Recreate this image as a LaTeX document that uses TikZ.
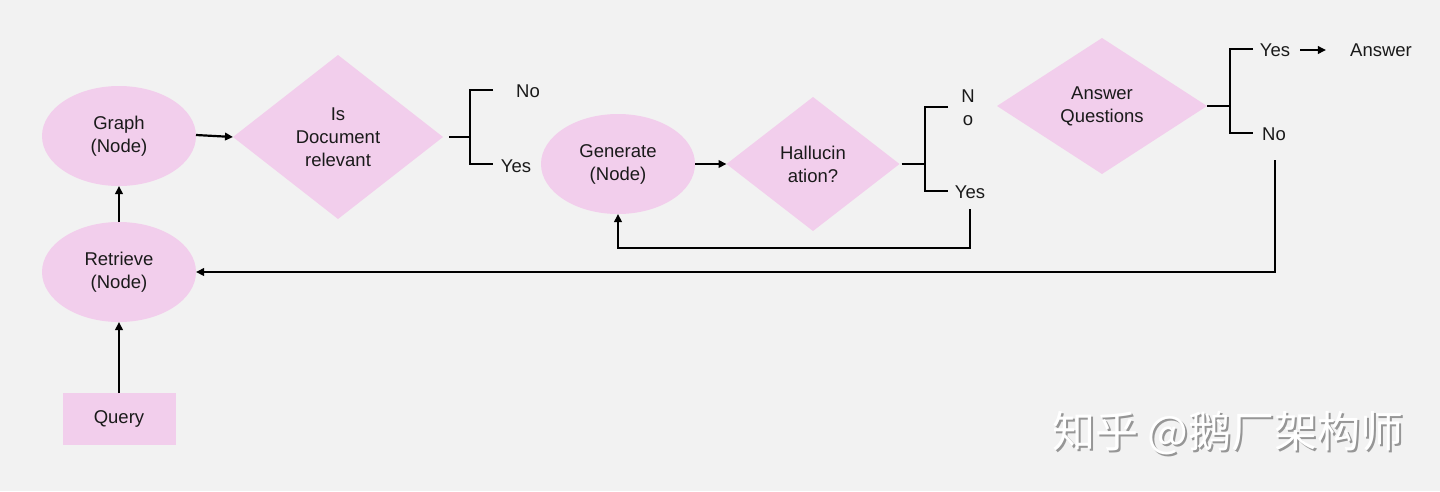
\documentclass[tikz,border=0pt]{standalone}
\usepackage{fontspec}
\setmainfont{Liberation Sans}
\newfontfamily\cjk{Noto Sans CJK SC}
\usetikzlibrary{shapes.geometric,arrows.meta}
\definecolor{bgc}{RGB}{242,242,242}
\definecolor{pinkc}{RGB}{242,206,236}
\definecolor{txtc}{RGB}{26,26,26}
\definecolor{wmshade}{RGB}{150,150,150}
\tikzset{
  every node/.style={font=\fontsize{18.5}{23}\selectfont, text=txtc, align=center},
  ell/.style={ellipse, fill=pinkc, minimum width=154pt, minimum height=100pt, inner sep=0pt, outer sep=0pt},
  dia/.style={diamond, fill=pinkc, inner sep=0pt, outer sep=0pt},
  qbox/.style={rectangle, fill=pinkc, minimum width=113pt, minimum height=52pt, inner sep=0pt, outer sep=0pt},
  lbl/.style={inner sep=0pt},
  conn/.style={draw=black, line width=2.2pt},
  arr/.style={conn, -{Triangle[length=8pt,width=7.5pt]}},
}
\begin{document}
\begin{tikzpicture}[x=1pt,y=-1pt]
\fill[bgc] (0,0) rectangle (1440,491);
\useasboundingbox (0,0) rectangle (1440,491);

% left column
\node[ell] (graph) at (119,136) {Graph\\(Node)};
\node[ell] (retr) at (119,272) {Retrieve\\(Node)};
\node[qbox] (query) at (119,419) {Query};
\draw[arr] (query.north) -- (retr.south);
\draw[arr] (retr.north) -- (graph.south);

% first decision
\node[dia, minimum width=210pt, minimum height=164pt] (d1) at (338,137) {Is\\Document\\relevant};
\draw[arr] ([yshift=1pt]graph.east) -- (d1.west);
\coordinate (b1) at (470,137);
\coordinate (b1t) at (493,90);
\coordinate (b1b) at (493,164);
\node[lbl] (no1) at (528,91) {No};
\node[lbl] (yes1) at (516,166) {Yes};
\draw[conn] ([xshift=6pt]d1.east) -- (b1);
\draw[conn] (b1t) -| (b1) |- (b1b);

% generate
\node[ell] (gen) at (618,164) {Generate\\(Node)};
\node[dia, minimum width=173pt, minimum height=134pt] (d2) at (813,164) {Hallucin\\ation?};
\draw[arr] (gen.east) -- (d2.west);
\coordinate (b2) at (925,164);
\coordinate (b2t) at (948,107);
\coordinate (b2b) at (948,191);
\node[lbl] (no2) at (968,108) {N\\o};
\node[lbl] (yes2) at (970,192) {Yes};
\draw[conn] ([xshift=2pt]d2.east) -- (b2);
\draw[conn] (b2t) -| (b2) |- (b2b);
\coordinate (l2) at (970,209);
\coordinate (l2c) at (970,248);
\draw[arr] (l2) -- (l2c) -| (gen.south);

% answer questions
\node[dia, minimum width=210pt, minimum height=136pt] (d3) at (1102,106) {Answer\\Questions};
\coordinate (b3) at (1230,106);
\coordinate (b3t) at (1253,49);
\coordinate (b3b) at (1253,133);
\node[lbl] (yes3) at (1275,50) {Yes};
\node[lbl] (no3) at (1274,134) {No};
\node[lbl] (ans) at (1381,50) {Answer};
\draw[conn] (d3.east) -- (b3);
\draw[conn] (b3t) -| (b3) |- (b3b);
\draw[arr, shorten <=10pt, shorten >=24pt] (yes3.east) -- (ans.west);

% feedback
\coordinate (f1) at (1275,160);
\draw[arr] (f1) |- (retr.east);

% watermark
\node[font=\cjk\fontsize{43}{46}\selectfont, text=wmshade] (wms) at (1230,435) {知乎 @鹅厂架构师};
\node[font=\cjk\fontsize{43}{46}\selectfont, text=white] (wm) at (1228,433) {知乎 @鹅厂架构师};
\end{tikzpicture}
\end{document}
